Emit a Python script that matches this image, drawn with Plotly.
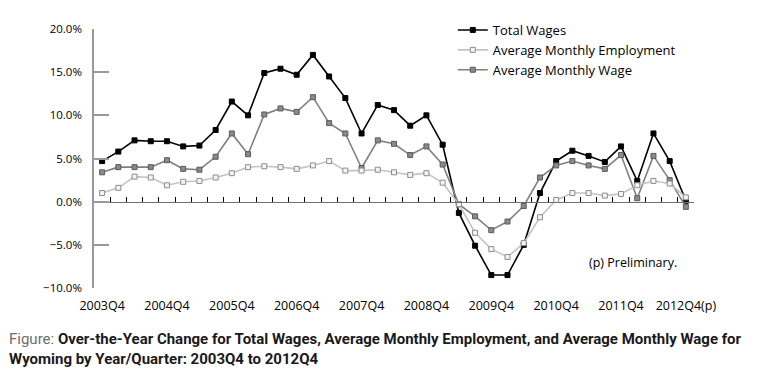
import plotly.graph_objects as go

quarters = [
    "2003Q4", "2004Q1", "2004Q2", "2004Q3", "2004Q4", "2005Q1", "2005Q2", "2005Q3",
    "2005Q4", "2006Q1", "2006Q2", "2006Q3", "2006Q4", "2007Q1", "2007Q2", "2007Q3",
    "2007Q4", "2008Q1", "2008Q2", "2008Q3", "2008Q4", "2009Q1", "2009Q2", "2009Q3",
    "2009Q4", "2010Q1", "2010Q2", "2010Q3", "2010Q4", "2011Q1", "2011Q2", "2011Q3",
    "2011Q4", "2012Q1", "2012Q2", "2012Q3", "2012Q4(p)",
]

total_wages = [4.7, 5.8, 7.1, 7.0, 7.0, 6.4, 6.5, 8.3, 11.6, 10.0, 14.9, 15.4, 14.7,
               17.0, 14.5, 12.0, 7.9, 11.2, 10.6, 8.8, 10.0, 6.6, -1.3, -5.1, -8.5,
               -8.5, -5.0, 1.0, 4.7, 5.9, 5.3, 4.6, 6.4, 2.4, 7.9, 4.7, 0.1]

avg_employment = [1.0, 1.6, 2.9, 2.8, 1.9, 2.3, 2.4, 2.8, 3.3, 4.0, 4.1, 4.0, 3.8,
                  4.2, 4.7, 3.6, 3.6, 3.7, 3.4, 3.1, 3.3, 2.2, -0.3, -3.6, -5.5,
                  -6.4, -4.8, -1.8, 0.2, 1.0, 1.0, 0.7, 0.9, 1.9, 2.4, 2.1, 0.5]

avg_wage = [3.4, 4.0, 4.0, 4.0, 4.8, 3.8, 3.7, 5.2, 7.9, 5.5, 10.1, 10.8, 10.4,
            12.1, 9.1, 7.9, 3.9, 7.1, 6.7, 5.4, 6.4, 4.3, -0.3, -1.7, -3.3,
            -2.3, -0.5, 2.8, 4.2, 4.7, 4.2, 3.8, 5.4, 0.4, 5.3, 2.5, -0.6]

label_ticks = quarters[::4]

TICK_FONT = "Open Sans, Lato, sans-serif"

fig = go.Figure()

fig.add_trace(go.Scatter(
    x=quarters, y=total_wages, name="Total Wages", mode="lines+markers",
    line=dict(color="#000000", width=1.6),
    marker=dict(symbol="square", size=5, color="#000000",
                line=dict(color="#000000", width=1)),
    xaxis="x", yaxis="y",
))
fig.add_trace(go.Scatter(
    x=quarters, y=avg_employment, name="Average Monthly Employment",
    mode="lines+markers",
    line=dict(color="#c4c4c4", width=1.6),
    marker=dict(symbol="square", size=5, color="#f4f4f4",
                line=dict(color="#8c8c8c", width=1)),
    xaxis="x2", yaxis="y",
))
fig.add_trace(go.Scatter(
    x=quarters, y=avg_wage, name="Average Monthly Wage", mode="lines+markers",
    line=dict(color="#808080", width=1.6),
    marker=dict(symbol="square", size=5, color="#8a8a8a",
                line=dict(color="#5a5a5a", width=1)),
    xaxis="x", yaxis="y",
))

fig.update_layout(
    width=771, height=372,
    margin=dict(l=94, r=77, t=29, b=84, autoexpand=False),
    paper_bgcolor="white", plot_bgcolor="white",
    font=dict(family=TICK_FONT, color="#000000"),
    showlegend=True,
    legend=dict(
        x=0.598, xanchor="left",
        yref="container", y=1 - 15 / 372, yanchor="top",
        bgcolor="rgba(0,0,0,0)", borderwidth=0,
        font=dict(family=TICK_FONT, size=13, color="#000000"),
        tracegroupgap=0, itemwidth=30,
    ),
    xaxis=dict(
        type="category", categoryorder="array", categoryarray=quarters,
        range=[-0.5, len(quarters) - 0.5],
        tickmode="array", tickvals=label_ticks, ticktext=label_ticks,
        ticks="", showline=False, showgrid=False, zeroline=False,
        tickfont=dict(family=TICK_FONT, size=12.5, color="#000000"),
        ticklabelstandoff=8, automargin=False,
    ),
    xaxis2=dict(
        type="category", overlaying="x", matches="x",
        anchor="free", position=1 / 3,
        showline=True, linecolor="#707070", linewidth=1.2,
        ticks="inside", tickson="boundaries", ticklen=5, tickwidth=1,
        tickcolor="#000000",
        tickmode="array", tickvals=quarters,
        showticklabels=False, showgrid=False, zeroline=False,
        automargin=False,
    ),
    yaxis=dict(
        range=[-10, 20], dtick=5, tick0=0,
        tickformat=".1f", ticksuffix="%",
        showline=True, linecolor="#999999", linewidth=1.5,
        ticks="inside", ticklen=15, tickwidth=1.5, tickcolor="#999999",
        showgrid=False, zeroline=False,
        tickfont=dict(family=TICK_FONT, size=11.5, color="#000000"),
        ticklabelstandoff=8, automargin=False,
    ),
    annotations=[
        dict(
            text="(p) Preliminary.", xref="paper", yref="paper",
            x=0.822, y=0.10, xanchor="left", yanchor="middle",
            showarrow=False,
            font=dict(family=TICK_FONT, size=12.5, color="#000000"),
        ),
        dict(
            text=("<span style='color:#6e6e6e'>Figure:</span> "
                  "<b>Over-the-Year Change for Total Wages, Average Monthly "
                  "Employment, and Average Monthly Wage for</b><br>"
                  "<b>Wyoming by Year/Quarter: 2003Q4 to 2012Q4</b>"),
            xref="paper", yref="paper",
            x=-0.145, y=-0.155, xanchor="left", yanchor="top", align="left",
            showarrow=False,
            font=dict(family="Liberation Sans Narrow, Roboto, sans-serif",
                      size=15, color="#1a1a1a"),
        ),
    ],
)

fig.write_html(
    "out.html",
    config={"displayModeBar": False},
    post_script="document.body.style.margin='0';document.body.style.padding='0';",
)
